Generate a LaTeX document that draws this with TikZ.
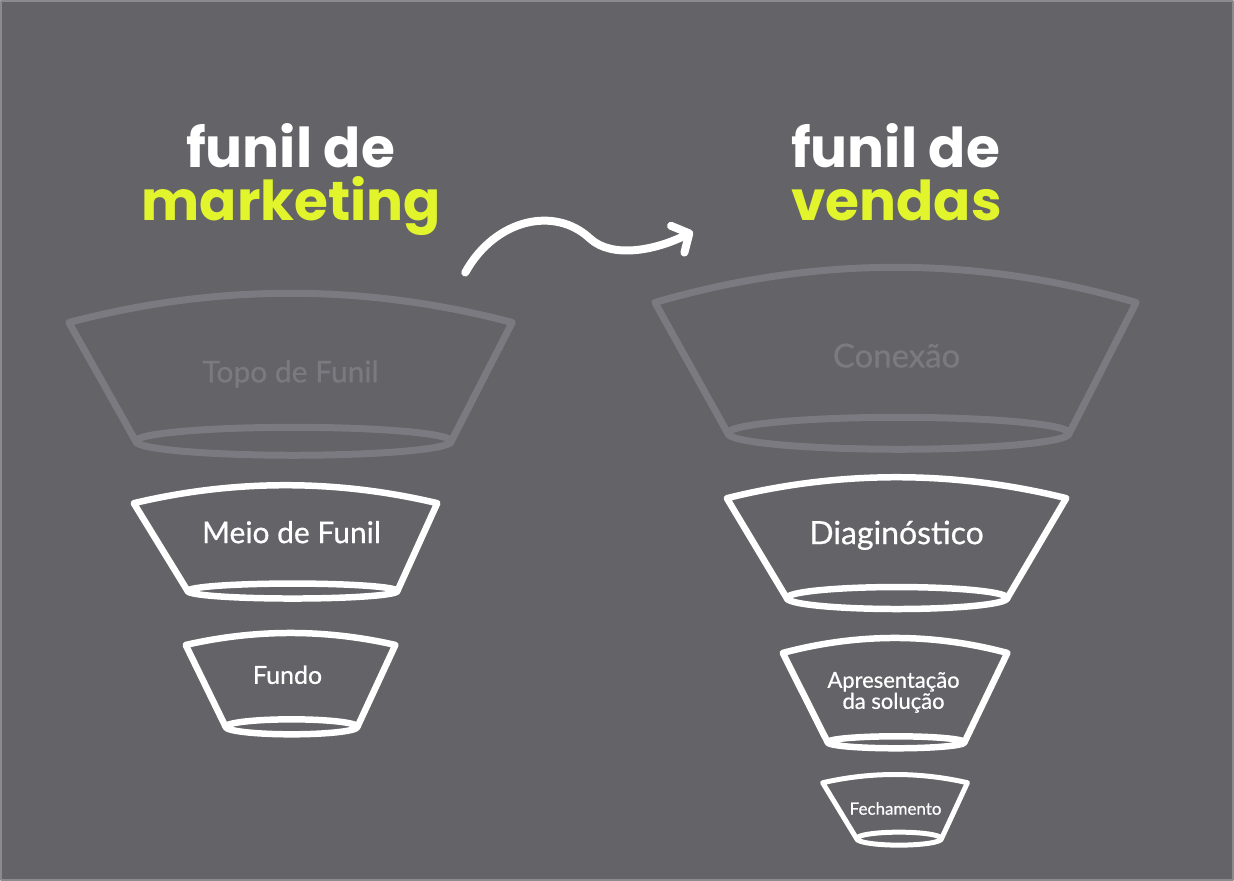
\documentclass[tikz,border=0pt]{standalone}
\usepackage{fontspec}
\setmainfont{Lato}
\newfontfamily\titlefont{Poppins}
\newfontfamily\labelfont{Lato}[FakeBold=0.6]
\usetikzlibrary{arrows.meta}
\definecolor{myBack}{HTML}{636368}
\definecolor{myGray}{HTML}{7B7A80}
\definecolor{myEdge}{HTML}{8A8A8F}
\definecolor{myLime}{HTML}{E2F52C}

\begin{document}
\begin{tikzpicture}[x=1pt, y=-1pt, line join=round, line cap=round]

  \tikzstyle{G}=[draw=myGray, line width=7pt]
  \tikzstyle{W}=[draw=white, line width=6.5pt]
  \tikzstyle{T}=[text=white, font=\titlefont\bfseries\fontsize{55}{60}\selectfont, anchor=base, inner sep=0pt]
  \tikzstyle{Y}=[T, text=myLime]
  \tikzstyle{L}=[text=white, font=\labelfont\fontsize{30}{36}\selectfont, anchor=base, inner sep=0pt]
  \tikzstyle{S}=[text=white, font=\labelfont\fontsize{21}{24}\selectfont, anchor=base, inner sep=0pt, align=center]

  \fill[myBack] (0,0) rectangle (1234,880);
  \draw[myEdge, line width=2pt] (0,0) rectangle (1234,880);
  \useasboundingbox (0,0) rectangle (1234,880);

  \node[T] at (290,167) (funilM) {funil de};
  \node[Y] at (291,220) (marketing) {marketing};
  \node[T] at (896,167) (funilV) {funil de};
  \node[Y] at (897,220) (vendas) {vendas};

  \draw[white, line width=8pt, -{Straight Barb[round, length=13pt, width=30pt]}]
    (465,272) .. controls (495,218) and (555,205) .. (590,238)
    .. controls (612,258) and (655,250) .. (693,231);

  % funil de marketing
  \draw[G] (451,441) -- (512,322) .. controls (364,283) and (216,283) .. (68,322) -- (135,441);
  \draw[G] (293,441) ellipse (158pt and 14pt);
  \node[L, text=myGray] at (290,382) (topo) {Topo de Funil};

  \draw[W] (397,591) -- (437,503) .. controls (336,479) and (234,479) .. (133,503) -- (187,591);
  \draw[W] (292,591) ellipse (105pt and 7.5pt);
  \node[L] at (291,543) (meio) {Meio de Funil};

  \draw[W] (357,727) -- (395,645) .. controls (325,629) and (255,629) .. (185,645) -- (225,727);
  \draw[W] (291,727) ellipse (66pt and 7.5pt);
  \node[S, font=\labelfont\fontsize{25}{28}\selectfont] at (287,684) (fundo) {Fundo};

  % funil de vendas
  \draw[G] (1070,433) -- (1137,302) .. controls (976,255) and (816,255) .. (655,302) -- (728,433);
  \draw[G] (899,433) ellipse (171pt and 16pt);
  \node[L, text=myGray, font=\labelfont\fontsize{33}{36}\selectfont] at (897,367) (conexao) {Conexão};

  \draw[W] (1008,598) -- (1067,498) .. controls (954,470) and (840,470) .. (727,498) -- (787,598);
  \draw[W] (897.5,598) ellipse (110.5pt and 11pt);
  \node[L, font=\labelfont\fontsize{32}{36}\selectfont] at (897,544) (diag) {Diaginóstico};

  \draw[W] (965,742.5) -- (1008,653) .. controls (933,633) and (858,633) .. (783,653) -- (828,742.5);
  \draw[W] (896.5,742.5) ellipse (68.5pt and 6pt);
  \node[S, font=\labelfont\fontsize{22}{20}\selectfont] at (894,709) (apres) {Apresentação\\da solução};

  \draw[W, line width=5pt] (942,839) -- (968,783) .. controls (920,772) and (871,772) .. (823,783) -- (857,839);
  \draw[W, line width=5pt] (899.5,839) ellipse (42.5pt and 6.5pt);
  \node[S, font=\labelfont\fontsize{17}{20}\selectfont] at (896,815) (fecha) {Fechamento};

\end{tikzpicture}
\end{document}
